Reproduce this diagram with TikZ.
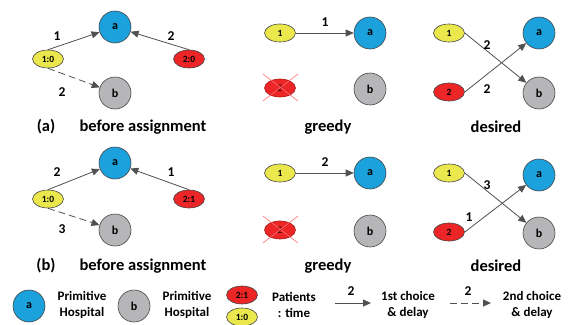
\documentclass[tikz,border=0pt]{standalone}
\usepackage{fontspec}
\setmainfont{Carlito}
\usetikzlibrary{arrows.meta,shapes.geometric}
\definecolor{hblue}{RGB}{27,161,220}
\definecolor{hgray}{RGB}{182,182,184}
\definecolor{pyel}{RGB}{234,232,76}
\definecolor{pred}{RGB}{236,38,38}
\definecolor{bord}{RGB}{70,70,70}
\definecolor{arr}{RGB}{80,80,80}
\definecolor{xred}{RGB}{255,110,110}
\definecolor{dred}{RGB}{60,0,0}
\begin{document}
\begin{tikzpicture}[x=1pt,y=-1pt,
  hosp/.style={circle,draw=bord,line width=0.6pt,minimum size=32pt,inner sep=0pt,font=\bfseries\fontsize{12}{14}\selectfont},
  pat/.style={ellipse,draw=bord,line width=0.6pt,minimum width=31pt,minimum height=18pt,inner sep=0pt,font=\bfseries\fontsize{9.5}{11}\selectfont},
  xpat/.style={pat,draw=pred!70!black,text=dred,font=\fontsize{10}{11}\selectfont},
  conn/.style={draw=arr,line width=0.8pt,-{Triangle[length=8pt,width=7pt]}},
  dconn/.style={conn,dash pattern=on 7pt off 4pt},
  lbl/.style={font=\bfseries\fontsize{13.5}{15}\selectfont,inner sep=0pt},
  captxt/.style={font=\bfseries\fontsize{16.5}{18}\selectfont,inner sep=0pt},
  legtxt/.style={font=\bfseries\fontsize{13}{16}\selectfont,inner sep=0pt,align=center},
  xline/.style={draw=xred,line width=0.6pt}]
\useasboundingbox (0,0) rectangle (569,324);

% ---------- row (a) ----------
\node[hosp,fill=hblue] (aa) at (115,27) {a};
\node[hosp,fill=hgray] (ab) at (115,93) {b};
\node[pat,fill=pyel] (ap1) at (48,59) {1:0};
\node[pat,fill=pred] (ap2) at (189,59) {2:0};
\draw[conn] (ap1.north) -- (aa);
\draw[conn] (ap2.north) -- (aa);
\draw[dconn] (ap1.south) -- (ab);
\node[lbl] (al1) at (57,36) {1};
\node[lbl] (al2) at (171,36) {2};
\node[lbl] (al3) at (62,92) {2};
\node[captxt] (acap1) at (46,127) {(a)};
\node[captxt] (acap2) at (143,127) {before assignment};

% greedy (a)
\node[pat,fill=pyel] (ag1) at (280,33) {1};
\node[hosp,fill=hblue] (aga) at (370,33) {a};
\node[xpat,fill=pred] (ag2) at (280,88) {2};
\node[hosp,fill=hgray] (agb) at (370,89) {b};
\draw[conn] (ag1) -- (aga);
\node[lbl] (agl) at (325,22) {1};
\draw[xline] (263,74) -- (298,101);
\draw[xline] (263,101) -- (298,74);
\node[captxt] (agcap) at (328,127) {greedy};

% desired (a)
\node[pat,fill=pyel] (ad1) at (449,33) {1};
\node[hosp,fill=hblue] (ada) at (539,33) {a};
\node[pat,fill=pred] (ad2) at (449,92) {2};
\node[hosp,fill=hgray] (adb) at (539,93) {b};
\draw[conn] (ad1.east) -- (adb);
\draw[conn] (ad2.east) -- (ada);
\node[lbl] (adl1) at (487,45) {2};
\node[lbl] (adl2) at (487,89) {2};
\node[captxt] (adcap) at (496,127) {desired};

% ---------- row (b) ----------
\node[hosp,fill=hblue] (ba) at (115,163) {a};
\node[hosp,fill=hgray] (bb) at (115,230) {b};
\node[pat,fill=pyel] (bp1) at (48,199) {1:0};
\node[pat,fill=pred] (bp2) at (189,199) {2:1};
\draw[conn] (bp1.north) -- (ba);
\draw[conn] (bp2.north) -- (ba);
\draw[dconn] (bp1.south) -- (bb);
\node[lbl] (bl1) at (57,172) {2};
\node[lbl] (bl2) at (171,172) {1};
\node[lbl] (bl3) at (62,229) {3};
\node[captxt] (bcap1) at (46,266) {(b)};
\node[captxt] (bcap2) at (143,266) {before assignment};

% greedy (b)
\node[pat,fill=pyel] (bg1) at (280,173) {1};
\node[hosp,fill=hblue] (bga) at (370,173) {a};
\node[xpat,fill=pred] (bg2) at (280,230) {2};
\node[hosp,fill=hgray] (bgb) at (370,231) {b};
\draw[conn] (bg1) -- (bga);
\node[lbl] (bgl) at (325,162) {2};
\draw[xline] (263,216) -- (298,243);
\draw[xline] (263,243) -- (298,216);
\node[captxt] (bgcap) at (328,266) {greedy};

% desired (b)
\node[pat,fill=pyel] (bd1) at (449,173) {1};
\node[hosp,fill=hblue] (bda) at (539,175) {a};
\node[pat,fill=pred] (bd2) at (449,232) {2};
\node[hosp,fill=hgray] (bdb) at (539,233) {b};
\draw[conn] (bd1.east) -- (bdb);
\draw[conn] (bd2.east) -- (bda);
\node[lbl] (bdl1) at (487,185) {3};
\node[lbl] (bdl2) at (469,217) {1};
\node[captxt] (bdcap) at (496,266) {desired};

% ---------- legend ----------
\node[hosp,fill=hblue] (la) at (29,306) {a};
\node[legtxt] (lta) at (82,305) {Primitive\\Hospital};
\node[hosp,fill=hgray] (lb) at (134,306) {b};
\node[legtxt] (ltb) at (187,305) {Primitive\\Hospital};
\node[pat,fill=pred] (lp2) at (242,295) {2:1};
\node[pat,fill=pyel] (lp1) at (242,317) {1:0};
\node[legtxt] (ltp) at (294,305) {Patients\\: time};
\coordinate (s1) at (335,303);
\coordinate (e1) at (371,303);
\draw[conn] (s1) -- (e1);
\node[lbl] (ll1) at (351,291) {2};
\node[legtxt] (lt1) at (408,305) {1st choice\\\& delay};
\coordinate (s2) at (450,303);
\coordinate (e2) at (491,303);
\draw[dconn] (s2) -- (e2);
\node[lbl] (ll2) at (468,291) {2};
\node[legtxt] (lt2) at (532,305) {2nd choice\\\& delay};
\end{tikzpicture}
\end{document}
